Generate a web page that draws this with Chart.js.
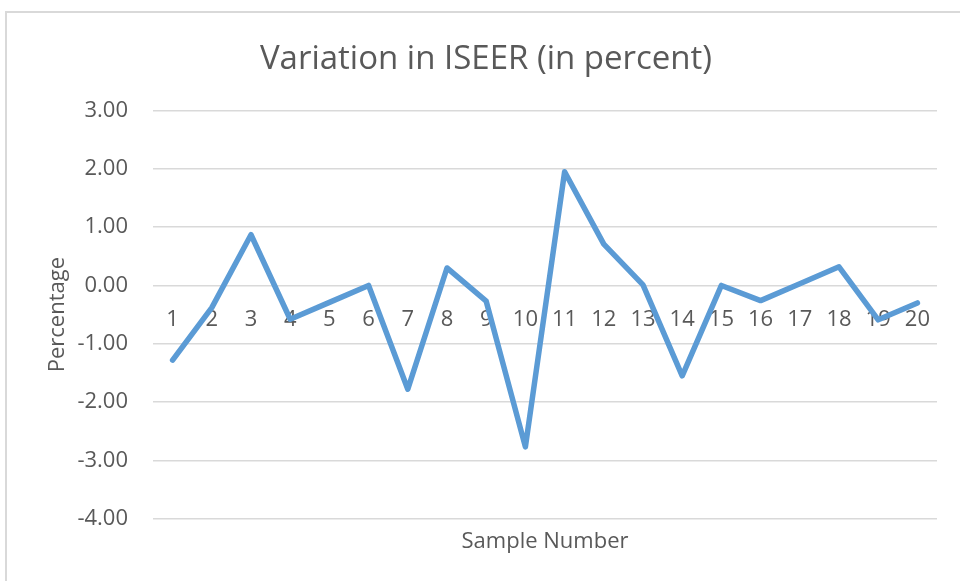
<!DOCTYPE html>
<html>
<head>
<meta charset="utf-8">
<script src="https://cdn.jsdelivr.net/npm/chart.js@4"></script>
<style>
  html, body { margin: 0; padding: 0; background: #ffffff; }
  #wrap { position: relative; width: 960px; height: 581px; }
</style>
</head>
<body>
<div id="wrap"><canvas id="c" width="960" height="581"></canvas></div>
<script>
const categories = ['1','2','3','4','5','6','7','8','9','10','11','12','13','14','15','16','17','18','19','20'];
const variation = [-1.28, -0.38, 0.87, -0.58, -0.29, 0.00, -1.78, 0.30, -0.27, -2.77, 1.95, 0.71, 0.01, -1.55, 0.00, -0.26, 0.03, 0.32, -0.59, -0.30];
const yTicks = [-4, -3, -2, -1, 0, 1, 2, 3];

const textColor = '#595959';
const gridColor = '#d9d9d9';
const fontFamily = '"Open Sans", "DejaVu Sans", sans-serif';

const frame = {
  id: 'frame',
  beforeDraw(chart) {
    const ctx = chart.ctx;
    ctx.save();
    ctx.fillStyle = '#ffffff';
    ctx.fillRect(0, 0, chart.width, chart.height);
    ctx.strokeStyle = gridColor;
    ctx.lineWidth = 2;
    ctx.strokeRect(6, 12, chart.width + 20, chart.height + 20);
    ctx.restore();
  }
};

new Chart(document.getElementById('c'), {
  type: 'line',
  data: {
    labels: categories,
    datasets: [{
      label: 'Variation',
      data: variation,
      xAxisID: 'x',
      yAxisID: 'y',
      borderColor: '#5b9bd5',
      backgroundColor: '#5b9bd5',
      borderWidth: 5.5,
      borderJoinStyle: 'round',
      borderCapStyle: 'round',
      pointRadius: 0,
      pointHoverRadius: 0,
      tension: 0,
      fill: false
    }]
  },
  options: {
    responsive: false,
    animation: false,
    devicePixelRatio: 1,
    layout: { padding: { left: 35, right: 23, top: 40, bottom: 26 } },
    plugins: {
      legend: { display: false },
      tooltip: { enabled: false },
      title: {
        display: true,
        text: 'Variation in ISEER (in percent)',
        color: textColor,
        font: { family: fontFamily, size: 33, weight: 'normal' },
        padding: { top: 0, bottom: 31 }
      }
    },
    scales: {
      x: {
        type: 'category',
        position: { y: 0 },
        offset: true,
        grid: { display: false, drawTicks: false },
        border: { display: false },
        ticks: {
          color: textColor,
          font: { family: fontFamily, size: 22 },
          padding: 21,
          maxRotation: 0,
          autoSkip: false
        }
      },
      x2: {
        type: 'category',
        position: 'bottom',
        offset: true,
        grid: { display: false, drawTicks: false },
        border: { display: false },
        ticks: { display: false },
        title: {
          display: true,
          text: 'Sample Number',
          color: textColor,
          font: { family: fontFamily, size: 22 },
          padding: { top: 10, bottom: 0 }
        }
      },
      y: {
        min: -4,
        max: 3,
        afterBuildTicks(scale) { scale.ticks = yTicks.map(v => ({ value: v })); },
        afterFit(scale) { scale.width = 118; },
        grid: { color: gridColor, lineWidth: 1.5, drawTicks: false },
        border: { display: false },
        ticks: {
          color: textColor,
          font: { family: fontFamily, size: 22 },
          padding: 25,
          callback: v => Number(v).toFixed(2)
        },
        title: {
          display: true,
          text: 'Percentage',
          color: textColor,
          font: { family: fontFamily, size: 22 },
          padding: { top: 10, bottom: 0 }
        }
      }
    }
  },
  plugins: [frame]
});
</script>
</body>
</html>
